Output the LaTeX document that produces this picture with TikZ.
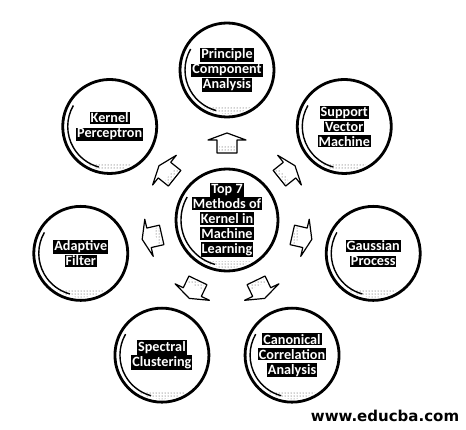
\documentclass[tikz,border=0pt]{standalone}
\usepackage{fontspec}
\newfontfamily\labfont{Carlito}
\newfontfamily\urlfont{DejaVu Sans}
\usetikzlibrary{patterns}
\newcommand\hl[1]{{\setlength\fboxsep{1pt}\colorbox{black}{\textcolor{white}{#1}}}}
\newcommand\decor[2]{%
  \draw[line width=1.4pt] (#1.center) ++(150:{#2-5}) arc[start angle=150,end angle=255,radius={#2-5}];
  \begin{scope}
    \clip (#1.center) circle ({#2-3});
    \fill[pattern=dots, pattern color=black!80] ([shift={({-#2},{-#2})}]#1.center) rectangle ([shift={({#2},{-#2+10})}]#1.center);
  \end{scope}}
\begin{document}
\begin{tikzpicture}[x=1pt,y=1pt,
  circ/.style={circle, draw, line width=2.8pt, inner sep=0pt, align=center,
    font=\labfont\bfseries\fontsize{14.2}{15}\selectfont},
  arrowshape/.style={draw, line width=1.2pt, line join=round, fill=white}]
\useasboundingbox (0,0) rectangle (466,429);
\coordinate (c) at (227,209);
\node[circ, minimum size=102] (m) at (c) {\hl{Top 7}\\\hl{Methods of}\\\hl{Kernel in}\\\hl{Machine}\\\hl{Learning}};
\node[circ, minimum size=94] (pca) at ([shift={(90:150)}]c) {\hl{Principle}\\\hl{Component}\\\hl{Analysis}};
\node[circ, minimum size=94] (svm) at ([shift={(38.57:150)}]c) {\hl{Support}\\\hl{Vector}\\\hl{Machine}};
\node[circ, minimum size=94] (gp) at ([shift={(-12.86:150)}]c) {\hl{Gaussian}\\\hl{Process}};
\node[circ, minimum size=94] (cca) at ([shift={(-64.29:150)}]c) {\hl{Canonical}\\\hl{Correlation}\\\hl{Analysis}};
\node[circ, minimum size=94] (sc) at ([shift={(-115.71:150)}]c) {\hl{Spectral}\\\hl{Clustering}};
\node[circ, minimum size=94] (af) at ([shift={(-167.14:150)}]c) {\hl{Adaptive}\\\hl{Filter}};
\node[circ, minimum size=94] (kp) at ([shift={(141.43:150)}]c) {\hl{Kernel}\\\hl{Perceptron}};
\decor{m}{51}
\foreach \n in {pca,svm,gp,cca,sc,af,kp}{\decor{\n}{47}}
\foreach \a in {90,38.57,-12.86,-64.29,-115.71,-167.14,141.43}{
  \begin{scope}[shift={(c)}, rotate=\a-90, shift={(0,77)}]
    \draw[arrowshape] (-10,-10) -- (10,-10) -- (10,3) -- (19,3) -- (0,10) -- (-19,3) -- (-10,3) -- cycle;
    \fill[pattern=dots, pattern color=black!80] (-8,-8.5) rectangle (8,-4);
  \end{scope}}
\node[font=\urlfont\bfseries\fontsize{15}{18}\selectfont, anchor=base, inner sep=0pt] (url) at (385,8) {www.educba.com};
\end{tikzpicture}
\end{document}
